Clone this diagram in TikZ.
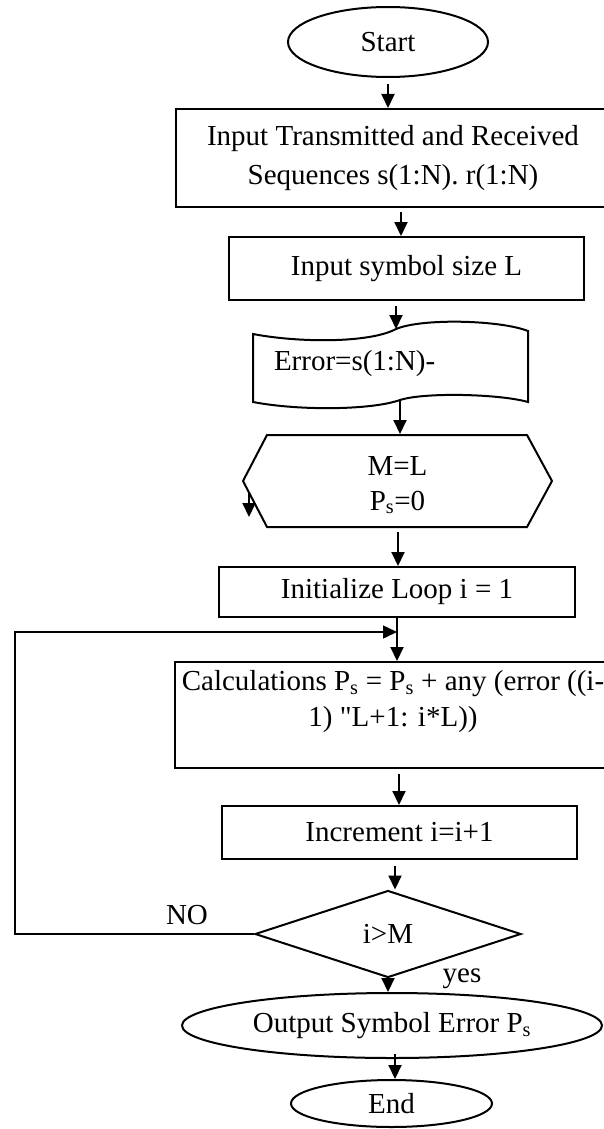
\documentclass[tikz,border=0pt]{standalone}
\usepackage{fontspec}
\setmainfont{Liberation Serif}
\newfontfamily\rawserif{Liberation Serif}[Ligatures=TeXOff]
\usetikzlibrary{arrows.meta,shapes.geometric}
\begin{document}
\begin{tikzpicture}[x=1pt,y=-1pt,
  font=\fontsize{29}{36}\selectfont,
  line width=2pt,
  arr/.style={-{Triangle[length=14pt,width=13pt]}, line width=2pt},
  box/.style={draw, rectangle, inner sep=0pt, align=center},
  term/.style={draw, ellipse, inner sep=0pt},
  lbl/.style={inner sep=0pt, align=center}]
\useasboundingbox (0,0) rectangle (604,1129);

% nodes
\node[term, minimum width=200pt, minimum height=70pt] (start) at (388,42) {Start};
\node[box, minimum width=434pt, minimum height=98pt] (in1) at (393,158)
  {Input Transmitted and Received\\[3pt]Sequences s(1:N). r(1:N)};
\node[box, minimum width=355pt, minimum height=63pt] (in2) at (406.5,268.5) {Input symbol size L};

% tape shape
\draw (253,334) .. controls (300,343) and (370,343) .. (396,329)
  .. controls (422,318) and (500,320) .. (528,331) -- (528,402)
  .. controls (500,394) and (425,392) .. (400,400)
  .. controls (372,410) and (300,411) .. (253,402) -- cycle;
\node[lbl, anchor=west] (errtxt) at (273,364) {Error=s(1:N)-};
\coordinate (tapetop) at (396,329);
\coordinate (tapebot) at (400,400);

% hexagon
\draw (243,481) -- (267,435) -- (527,435) -- (552,481) -- (527,527) -- (267,527) -- cycle;
\node[lbl, minimum width=285pt, minimum height=92pt] (hex) at (397.5,481) {};
\node[lbl] (hextext) at (397.5,485) {M=L\\[-1pt]P\textsubscript{s}=0};
\coordinate (stray) at (249,492);

\node[box, minimum width=356pt, minimum height=50pt] (init) at (397,592) {Initialize Loop i = 1};
\node[box, minimum width=437pt, minimum height=106pt] (calc) at (393.5,715) {};
\node[lbl] (calctext) at (393,702)
  {Calculations P\textsubscript{s} = P\textsubscript{s} + any (error ((i-\\1) {\rawserif "}L+1: i*L))};
\node[box, minimum width=355pt, minimum height=53pt] (inc) at (399.5,832.5) {Increment i=i+1};
\node[draw, diamond, minimum width=266pt, minimum height=87pt, inner sep=0pt] (dec) at (388,934) {i>M};
\node[term, minimum width=420pt, minimum height=65pt] (out) at (392,1025.5) {Output Symbol Error P\textsubscript{s}};
\node[term, minimum width=201pt, minimum height=47pt] (end) at (391.5,1103.5) {End};

\node[lbl] (no) at (187,915) {NO};
\node[lbl] (yes) at (462,979) {yes};

\coordinate (lp1) at (15,934);
\coordinate (lp2) at (15,632);

% connectors
\draw[arr, shorten <=6pt] (start.south) -- (start.south |- in1.north);
\draw[arr, shorten <=4pt] ([xshift=8pt]in1.south) -- ([xshift=-5.5pt]in2.north);
\draw[arr, shorten <=5pt] ([xshift=-10.5pt]in2.south) -- (tapetop);
\draw[arr] (tapebot) -- ([xshift=2.5pt]hex.north);
\draw[arr] (stray) -- ++(0,25);
\draw[arr, shorten <=4pt] ([xshift=0.5pt]hex.south) -- ([xshift=1pt]init.north);
\draw[arr] (init.south) -- (init.south |- calc.north);
\draw[arr, line width=1.5pt] (dec.west) -- (lp1) -- (lp2) -- (lp2 -| init.south);
\draw[arr, shorten <=5pt] ([xshift=-0.5pt]inc.north |- calc.south) -- ([xshift=-0.5pt]inc.north);
\draw[arr, shorten <=6pt] ([xshift=-4.5pt]inc.south) -- ([xshift=7pt]dec.north);
\draw[arr] (dec.south) -- (dec.south |- out.north);
\draw[arr, shorten <=-5pt] ([xshift=3pt]out.south) -- ([xshift=3pt]out.south |- end.north);
\end{tikzpicture}
\end{document}
